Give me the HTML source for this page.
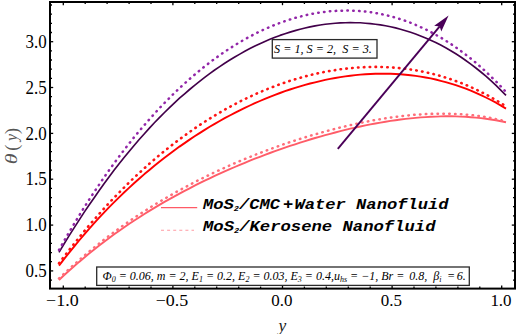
<!DOCTYPE html>
<html><head><meta charset="utf-8"><style>
html,body{margin:0;padding:0;background:#fff;}
body{width:517px;height:334px;overflow:hidden;position:relative;}
svg{position:absolute;left:0;top:0;}
.t{font-family:"Liberation Serif",serif;}
</style></head><body>
<svg width="517" height="334" viewBox="0 0 517 334">
<g fill="none" stroke-linejoin="round">
<path d="M59.0,280.0 L64.0,275.3 L69.0,270.7 L74.1,266.3 L79.1,261.9 L84.1,257.7 L89.1,253.6 L94.2,249.5 L99.2,245.6 L104.2,241.7 L109.2,238.0 L114.2,234.3 L119.3,230.7 L124.3,227.2 L129.3,223.8 L134.3,220.5 L139.4,217.2 L144.4,214.0 L149.4,210.9 L154.4,207.9 L159.4,204.9 L164.5,201.9 L169.5,199.1 L174.5,196.3 L179.5,193.6 L184.6,190.9 L189.6,188.3 L194.6,185.7 L199.6,183.2 L204.7,180.7 L209.7,178.3 L214.7,175.9 L219.7,173.6 L224.7,171.4 L229.8,169.2 L234.8,167.0 L239.8,164.9 L244.8,162.8 L249.9,160.7 L254.9,158.7 L259.9,156.8 L264.9,154.9 L269.9,153.0 L275.0,151.2 L280.0,149.4 L285.0,147.6 L290.0,145.9 L295.1,144.3 L300.1,142.7 L305.1,141.1 L310.1,139.5 L315.1,138.0 L320.2,136.6 L325.2,135.2 L330.2,133.8 L335.2,132.5 L340.3,131.2 L345.3,129.9 L350.3,128.7 L355.3,127.6 L360.3,126.5 L365.4,125.4 L370.4,124.4 L375.4,123.5 L380.4,122.6 L385.5,121.7 L390.5,120.9 L395.5,120.2 L400.5,119.5 L405.6,118.9 L410.6,118.4 L415.6,117.9 L420.6,117.4 L425.6,117.1 L430.7,116.8 L435.7,116.6 L440.7,116.4 L445.7,116.3 L450.8,116.3 L455.8,116.4 L460.8,116.6 L465.8,116.8 L470.8,117.2 L475.9,117.6 L480.9,118.1 L485.9,118.7 L490.9,119.5 L496.0,120.3 L501.0,121.2 L506.0,122.2" stroke="#ff5c68" stroke-width="1.9"/>
<path d="M59.0,278.4 L64.0,273.7 L69.0,269.1 L74.1,264.6 L79.1,260.2 L84.1,255.8 L89.1,251.6 L94.2,247.5 L99.2,243.5 L104.2,239.5 L109.2,235.7 L114.2,232.0 L119.3,228.3 L124.3,224.7 L129.3,221.2 L134.3,217.8 L139.4,214.4 L144.4,211.2 L149.4,208.0 L154.4,204.8 L159.4,201.8 L164.5,198.8 L169.5,195.9 L174.5,193.0 L179.5,190.2 L184.6,187.5 L189.6,184.8 L194.6,182.2 L199.6,179.6 L204.7,177.1 L209.7,174.7 L214.7,172.3 L219.7,170.0 L224.7,167.7 L229.8,165.4 L234.8,163.2 L239.8,161.1 L244.8,159.0 L249.9,157.0 L254.9,154.9 L259.9,153.0 L264.9,151.1 L269.9,149.2 L275.0,147.4 L280.0,145.6 L285.0,143.8 L290.0,142.1 L295.1,140.5 L300.1,138.9 L305.1,137.3 L310.1,135.8 L315.1,134.3 L320.2,132.9 L325.2,131.5 L330.2,130.1 L335.2,128.8 L340.3,127.5 L345.3,126.3 L350.3,125.1 L355.3,124.0 L360.3,122.9 L365.4,121.9 L370.4,120.9 L375.4,120.0 L380.4,119.2 L385.5,118.3 L390.5,117.6 L395.5,116.9 L400.5,116.3 L405.6,115.7 L410.6,115.2 L415.6,114.7 L420.6,114.4 L425.6,114.1 L430.7,113.9 L435.7,113.7 L440.7,113.6 L445.7,113.7 L450.8,113.8 L455.8,114.0 L460.8,114.2 L465.8,114.6 L470.8,115.1 L475.9,115.7 L480.9,116.3 L485.9,117.1 L490.9,118.0 L496.0,119.1 L501.0,120.2 L506.0,121.5" stroke="#ff6e7a" stroke-width="2.5" stroke-linecap="round" stroke-dasharray="0.5 5.35"/>
<path d="M59.0,265.7 L64.0,259.2 L69.0,252.8 L74.1,246.6 L79.1,240.5 L84.1,234.6 L89.1,228.8 L94.2,223.2 L99.2,217.7 L104.2,212.4 L109.2,207.1 L114.2,202.1 L119.3,197.1 L124.3,192.3 L129.3,187.6 L134.3,183.0 L139.4,178.5 L144.4,174.1 L149.4,169.9 L154.4,165.7 L159.4,161.7 L164.5,157.8 L169.5,154.0 L174.5,150.2 L179.5,146.6 L184.6,143.1 L189.6,139.6 L194.6,136.3 L199.6,133.1 L204.7,129.9 L209.7,126.8 L214.7,123.9 L219.7,121.0 L224.7,118.2 L229.8,115.5 L234.8,112.9 L239.8,110.3 L244.8,107.9 L249.9,105.5 L254.9,103.2 L259.9,101.0 L264.9,98.9 L269.9,96.8 L275.0,94.9 L280.0,93.0 L285.0,91.2 L290.0,89.5 L295.1,87.9 L300.1,86.4 L305.1,84.9 L310.1,83.5 L315.1,82.3 L320.2,81.1 L325.2,79.9 L330.2,78.9 L335.2,78.0 L340.3,77.1 L345.3,76.4 L350.3,75.7 L355.3,75.1 L360.3,74.6 L365.4,74.3 L370.4,74.0 L375.4,73.8 L380.4,73.7 L385.5,73.7 L390.5,73.8 L395.5,74.0 L400.5,74.3 L405.6,74.7 L410.6,75.2 L415.6,75.9 L420.6,76.6 L425.6,77.5 L430.7,78.4 L435.7,79.5 L440.7,80.8 L445.7,82.1 L450.8,83.6 L455.8,85.1 L460.8,86.9 L465.8,88.7 L470.8,90.7 L475.9,92.8 L480.9,95.1 L485.9,97.5 L490.9,100.0 L496.0,102.7 L501.0,105.6 L506.0,108.6" stroke="#ff0000" stroke-width="1.9"/>
<path d="M59.0,263.3 L64.0,256.7 L69.0,250.2 L74.1,243.8 L79.1,237.5 L84.1,231.4 L89.1,225.4 L94.2,219.6 L99.2,213.9 L104.2,208.3 L109.2,202.9 L114.2,197.6 L119.3,192.4 L124.3,187.3 L129.3,182.3 L134.3,177.5 L139.4,172.8 L144.4,168.2 L149.4,163.7 L154.4,159.4 L159.4,155.1 L164.5,151.0 L169.5,147.0 L174.5,143.1 L179.5,139.3 L184.6,135.6 L189.6,132.0 L194.6,128.5 L199.6,125.1 L204.7,121.8 L209.7,118.6 L214.7,115.5 L219.7,112.6 L224.7,109.7 L229.8,106.9 L234.8,104.2 L239.8,101.6 L244.8,99.1 L249.9,96.7 L254.9,94.4 L259.9,92.2 L264.9,90.1 L269.9,88.0 L275.0,86.1 L280.0,84.2 L285.0,82.5 L290.0,80.8 L295.1,79.3 L300.1,77.8 L305.1,76.4 L310.1,75.1 L315.1,73.9 L320.2,72.8 L325.2,71.8 L330.2,70.9 L335.2,70.1 L340.3,69.3 L345.3,68.7 L350.3,68.2 L355.3,67.7 L360.3,67.4 L365.4,67.1 L370.4,67.0 L375.4,66.9 L380.4,67.0 L385.5,67.1 L390.5,67.4 L395.5,67.7 L400.5,68.2 L405.6,68.8 L410.6,69.5 L415.6,70.3 L420.6,71.2 L425.6,72.2 L430.7,73.4 L435.7,74.6 L440.7,76.0 L445.7,77.6 L450.8,79.2 L455.8,81.0 L460.8,82.9 L465.8,84.9 L470.8,87.1 L475.9,89.4 L480.9,91.9 L485.9,94.5 L490.9,97.2 L496.0,100.1 L501.0,103.2 L506.0,106.4" stroke="#ff1414" stroke-width="2.6" stroke-linecap="round" stroke-dasharray="0.5 5.35"/>
<path d="M59.0,252.4 L64.0,244.0 L69.0,235.9 L74.1,227.9 L79.1,220.1 L84.1,212.4 L89.1,205.0 L94.2,197.7 L99.2,190.5 L104.2,183.6 L109.2,176.7 L114.2,170.1 L119.3,163.6 L124.3,157.3 L129.3,151.2 L134.3,145.2 L139.4,139.3 L144.4,133.7 L149.4,128.1 L154.4,122.8 L159.4,117.6 L164.5,112.5 L169.5,107.6 L174.5,102.8 L179.5,98.2 L184.6,93.8 L189.6,89.5 L194.6,85.3 L199.6,81.3 L204.7,77.4 L209.7,73.6 L214.7,70.0 L219.7,66.6 L224.7,63.2 L229.8,60.0 L234.8,57.0 L239.8,54.1 L244.8,51.3 L249.9,48.6 L254.9,46.1 L259.9,43.7 L264.9,41.4 L269.9,39.3 L275.0,37.3 L280.0,35.4 L285.0,33.7 L290.0,32.1 L295.1,30.6 L300.1,29.2 L305.1,28.0 L310.1,26.9 L315.1,25.9 L320.2,25.0 L325.2,24.3 L330.2,23.7 L335.2,23.2 L340.3,22.9 L345.3,22.7 L350.3,22.6 L355.3,22.7 L360.3,22.8 L365.4,23.2 L370.4,23.6 L375.4,24.2 L380.4,24.9 L385.5,25.8 L390.5,26.8 L395.5,27.9 L400.5,29.2 L405.6,30.7 L410.6,32.3 L415.6,34.0 L420.6,35.9 L425.6,37.9 L430.7,40.2 L435.7,42.5 L440.7,45.1 L445.7,47.8 L450.8,50.7 L455.8,53.8 L460.8,57.0 L465.8,60.5 L470.8,64.1 L475.9,68.0 L480.9,72.0 L485.9,76.2 L490.9,80.7 L496.0,85.4 L501.0,90.3 L506.0,95.4" stroke="#42004a" stroke-width="1.65"/>
<path d="M59.0,249.9 L64.0,241.1 L69.0,232.4 L74.1,223.9 L79.1,215.6 L84.1,207.5 L89.1,199.7 L94.2,192.0 L99.2,184.5 L104.2,177.1 L109.2,170.0 L114.2,163.1 L119.3,156.3 L124.3,149.7 L129.3,143.3 L134.3,137.0 L139.4,130.9 L144.4,125.0 L149.4,119.3 L154.4,113.7 L159.4,108.3 L164.5,103.0 L169.5,97.9 L174.5,92.9 L179.5,88.1 L184.6,83.5 L189.6,79.0 L194.6,74.7 L199.6,70.5 L204.7,66.4 L209.7,62.5 L214.7,58.8 L219.7,55.2 L224.7,51.7 L229.8,48.4 L234.8,45.2 L239.8,42.2 L244.8,39.3 L249.9,36.5 L254.9,33.9 L259.9,31.4 L264.9,29.1 L269.9,26.9 L275.0,24.8 L280.0,22.9 L285.0,21.1 L290.0,19.5 L295.1,17.9 L300.1,16.6 L305.1,15.3 L310.1,14.3 L315.1,13.3 L320.2,12.5 L325.2,11.8 L330.2,11.3 L335.2,10.9 L340.3,10.7 L345.3,10.5 L350.3,10.6 L355.3,10.8 L360.3,11.1 L365.4,11.6 L370.4,12.2 L375.4,13.0 L380.4,13.9 L385.5,15.0 L390.5,16.3 L395.5,17.7 L400.5,19.2 L405.6,20.9 L410.6,22.8 L415.6,24.9 L420.6,27.1 L425.6,29.4 L430.7,32.0 L435.7,34.7 L440.7,37.6 L445.7,40.6 L450.8,43.9 L455.8,47.3 L460.8,50.9 L465.8,54.7 L470.8,58.6 L475.9,62.8 L480.9,67.2 L485.9,71.7 L490.9,76.5 L496.0,81.4 L501.0,86.6 L506.0,92.0" stroke="#9226a8" stroke-width="2.5" stroke-linecap="round" stroke-dasharray="0.5 5.35"/>
</g>
<line x1="337.8" y1="148.9" x2="439.7" y2="26.4" stroke="#4a0058" stroke-width="1.9"/><polygon points="448.6,15.6 441.3,31.6 439.7,26.4 434.2,25.7" fill="#4a0058"/>
<g stroke="#000" stroke-width="1.3">
<line x1="63.3" y1="288.6" x2="63.3" y2="285.40000000000003"/><line x1="63.3" y1="2.0" x2="63.3" y2="5.2"/><line x1="85.2" y1="288.6" x2="85.2" y2="286.6"/><line x1="85.2" y1="2.0" x2="85.2" y2="4.0"/><line x1="107.1" y1="288.6" x2="107.1" y2="286.6"/><line x1="107.1" y1="2.0" x2="107.1" y2="4.0"/><line x1="129.1" y1="288.6" x2="129.1" y2="286.6"/><line x1="129.1" y1="2.0" x2="129.1" y2="4.0"/><line x1="151.0" y1="288.6" x2="151.0" y2="286.6"/><line x1="151.0" y1="2.0" x2="151.0" y2="4.0"/><line x1="172.9" y1="288.6" x2="172.9" y2="285.40000000000003"/><line x1="172.9" y1="2.0" x2="172.9" y2="5.2"/><line x1="194.8" y1="288.6" x2="194.8" y2="286.6"/><line x1="194.8" y1="2.0" x2="194.8" y2="4.0"/><line x1="216.7" y1="288.6" x2="216.7" y2="286.6"/><line x1="216.7" y1="2.0" x2="216.7" y2="4.0"/><line x1="238.7" y1="288.6" x2="238.7" y2="286.6"/><line x1="238.7" y1="2.0" x2="238.7" y2="4.0"/><line x1="260.6" y1="288.6" x2="260.6" y2="286.6"/><line x1="260.6" y1="2.0" x2="260.6" y2="4.0"/><line x1="282.5" y1="288.6" x2="282.5" y2="285.40000000000003"/><line x1="282.5" y1="2.0" x2="282.5" y2="5.2"/><line x1="304.4" y1="288.6" x2="304.4" y2="286.6"/><line x1="304.4" y1="2.0" x2="304.4" y2="4.0"/><line x1="326.3" y1="288.6" x2="326.3" y2="286.6"/><line x1="326.3" y1="2.0" x2="326.3" y2="4.0"/><line x1="348.3" y1="288.6" x2="348.3" y2="286.6"/><line x1="348.3" y1="2.0" x2="348.3" y2="4.0"/><line x1="370.2" y1="288.6" x2="370.2" y2="286.6"/><line x1="370.2" y1="2.0" x2="370.2" y2="4.0"/><line x1="392.1" y1="288.6" x2="392.1" y2="285.40000000000003"/><line x1="392.1" y1="2.0" x2="392.1" y2="5.2"/><line x1="414.0" y1="288.6" x2="414.0" y2="286.6"/><line x1="414.0" y1="2.0" x2="414.0" y2="4.0"/><line x1="435.9" y1="288.6" x2="435.9" y2="286.6"/><line x1="435.9" y1="2.0" x2="435.9" y2="4.0"/><line x1="457.9" y1="288.6" x2="457.9" y2="286.6"/><line x1="457.9" y1="2.0" x2="457.9" y2="4.0"/><line x1="479.8" y1="288.6" x2="479.8" y2="286.6"/><line x1="479.8" y1="2.0" x2="479.8" y2="4.0"/><line x1="501.7" y1="288.6" x2="501.7" y2="285.40000000000003"/><line x1="501.7" y1="2.0" x2="501.7" y2="5.2"/><line x1="50" y1="280.1" x2="52.0" y2="280.1"/><line x1="515.0" y1="280.1" x2="513.0" y2="280.1"/><line x1="50" y1="270.9" x2="53.2" y2="270.9"/><line x1="515.0" y1="270.9" x2="511.8" y2="270.9"/><line x1="50" y1="261.7" x2="52.0" y2="261.7"/><line x1="515.0" y1="261.7" x2="513.0" y2="261.7"/><line x1="50" y1="252.6" x2="52.0" y2="252.6"/><line x1="515.0" y1="252.6" x2="513.0" y2="252.6"/><line x1="50" y1="243.4" x2="52.0" y2="243.4"/><line x1="515.0" y1="243.4" x2="513.0" y2="243.4"/><line x1="50" y1="234.2" x2="52.0" y2="234.2"/><line x1="515.0" y1="234.2" x2="513.0" y2="234.2"/><line x1="50" y1="225.1" x2="53.2" y2="225.1"/><line x1="515.0" y1="225.1" x2="511.8" y2="225.1"/><line x1="50" y1="215.9" x2="52.0" y2="215.9"/><line x1="515.0" y1="215.9" x2="513.0" y2="215.9"/><line x1="50" y1="206.7" x2="52.0" y2="206.7"/><line x1="515.0" y1="206.7" x2="513.0" y2="206.7"/><line x1="50" y1="197.6" x2="52.0" y2="197.6"/><line x1="515.0" y1="197.6" x2="513.0" y2="197.6"/><line x1="50" y1="188.4" x2="52.0" y2="188.4"/><line x1="515.0" y1="188.4" x2="513.0" y2="188.4"/><line x1="50" y1="179.2" x2="53.2" y2="179.2"/><line x1="515.0" y1="179.2" x2="511.8" y2="179.2"/><line x1="50" y1="170.1" x2="52.0" y2="170.1"/><line x1="515.0" y1="170.1" x2="513.0" y2="170.1"/><line x1="50" y1="160.9" x2="52.0" y2="160.9"/><line x1="515.0" y1="160.9" x2="513.0" y2="160.9"/><line x1="50" y1="151.7" x2="52.0" y2="151.7"/><line x1="515.0" y1="151.7" x2="513.0" y2="151.7"/><line x1="50" y1="142.5" x2="52.0" y2="142.5"/><line x1="515.0" y1="142.5" x2="513.0" y2="142.5"/><line x1="50" y1="133.4" x2="53.2" y2="133.4"/><line x1="515.0" y1="133.4" x2="511.8" y2="133.4"/><line x1="50" y1="124.2" x2="52.0" y2="124.2"/><line x1="515.0" y1="124.2" x2="513.0" y2="124.2"/><line x1="50" y1="115.0" x2="52.0" y2="115.0"/><line x1="515.0" y1="115.0" x2="513.0" y2="115.0"/><line x1="50" y1="105.9" x2="52.0" y2="105.9"/><line x1="515.0" y1="105.9" x2="513.0" y2="105.9"/><line x1="50" y1="96.7" x2="52.0" y2="96.7"/><line x1="515.0" y1="96.7" x2="513.0" y2="96.7"/><line x1="50" y1="87.5" x2="53.2" y2="87.5"/><line x1="515.0" y1="87.5" x2="511.8" y2="87.5"/><line x1="50" y1="78.4" x2="52.0" y2="78.4"/><line x1="515.0" y1="78.4" x2="513.0" y2="78.4"/><line x1="50" y1="69.2" x2="52.0" y2="69.2"/><line x1="515.0" y1="69.2" x2="513.0" y2="69.2"/><line x1="50" y1="60.0" x2="52.0" y2="60.0"/><line x1="515.0" y1="60.0" x2="513.0" y2="60.0"/><line x1="50" y1="50.9" x2="52.0" y2="50.9"/><line x1="515.0" y1="50.9" x2="513.0" y2="50.9"/><line x1="50" y1="41.7" x2="53.2" y2="41.7"/><line x1="515.0" y1="41.7" x2="511.8" y2="41.7"/><line x1="50" y1="32.5" x2="52.0" y2="32.5"/><line x1="515.0" y1="32.5" x2="513.0" y2="32.5"/><line x1="50" y1="23.4" x2="52.0" y2="23.4"/><line x1="515.0" y1="23.4" x2="513.0" y2="23.4"/><line x1="50" y1="14.2" x2="52.0" y2="14.2"/><line x1="515.0" y1="14.2" x2="513.0" y2="14.2"/><line x1="50" y1="5.0" x2="52.0" y2="5.0"/><line x1="515.0" y1="5.0" x2="513.0" y2="5.0"/>
</g>
<rect x="50" y="2.0" width="465.0" height="286.6" fill="none" stroke="#000" stroke-width="2"/>
<g class="t" font-size="17" fill="#000">
<text x="46.1" y="306.4" font-size="17.4" textLength="32.6" lengthAdjust="spacingAndGlyphs">−1.0</text><text x="155.7" y="306.4" font-size="17.4" textLength="32.6" lengthAdjust="spacingAndGlyphs">−0.5</text><text x="271.2" y="306.4" font-size="17.4" textLength="21.2" lengthAdjust="spacingAndGlyphs">0.0</text><text x="380.8" y="306.4" font-size="17.4" textLength="21.2" lengthAdjust="spacingAndGlyphs">0.5</text><text x="490.4" y="306.4" font-size="17.4" textLength="21.2" lengthAdjust="spacingAndGlyphs">1.0</text>
<text x="25.6" y="277.1" font-size="17.8" textLength="21.2" lengthAdjust="spacingAndGlyphs">0.5</text><text x="25.6" y="231.3" font-size="17.8" textLength="21.2" lengthAdjust="spacingAndGlyphs">1.0</text><text x="25.6" y="185.4" font-size="17.8" textLength="21.2" lengthAdjust="spacingAndGlyphs">1.5</text><text x="25.6" y="139.6" font-size="17.8" textLength="21.2" lengthAdjust="spacingAndGlyphs">2.0</text><text x="25.6" y="93.7" font-size="17.8" textLength="21.2" lengthAdjust="spacingAndGlyphs">2.5</text><text x="25.6" y="47.9" font-size="17.8" textLength="21.2" lengthAdjust="spacingAndGlyphs">3.0</text>
</g>
<text class="t" x="282.3" y="331" font-size="17.5" font-style="italic" fill="#1a1a1a" text-anchor="middle">y</text>
<g class="t" transform="translate(16.8,164) rotate(-90)" fill="#555"><text transform="scale(1.25,1)" x="-0.3" y="0" font-size="17.5" font-style="italic">&#952;</text><text x="13.2" y="1" font-size="18">(</text><text x="22.9" y="0" font-size="16" font-style="italic">y</text><text x="29.9" y="1" font-size="18">)</text></g>
<!-- S legend box -->
<rect x="272.3" y="39.6" width="104.7" height="18.5" fill="#fff" stroke="#2a2a2a" stroke-width="1.3"/>
<text class="t" x="274" y="53" font-size="12.2" font-style="italic" fill="#000" xml:space="preserve">S = 1, S = 2,  S = 3.</text>
<!-- nanofluid legend -->
<line x1="161" y1="207.6" x2="197.2" y2="207.6" stroke="#ff5a66" stroke-width="1.3"/>
<line x1="161" y1="230.3" x2="194" y2="230.3" stroke="#ff9aa2" stroke-width="1.1" stroke-dasharray="3 3.1"/>
<g font-family="Liberation Mono, monospace" font-weight="bold" font-style="italic" font-size="14" fill="#000">
<text x="203" y="209.3" textLength="245.5" lengthAdjust="spacingAndGlyphs">MoS<tspan font-size="7" dy="1.6">2</tspan><tspan dy="-1.6">/CMC</tspan><tspan dx="2.5">+</tspan><tspan dx="1">Water Nanofluid</tspan></text>
<text x="203" y="231.3" textLength="232.5" lengthAdjust="spacingAndGlyphs">MoS<tspan font-size="7" dy="1.6">2</tspan><tspan dy="-1.6">/Kerosene Nanofluid</tspan></text>
</g>
<!-- param box -->
<rect x="96.7" y="267" width="372.6" height="18.4" fill="#fff" stroke="#2a2a2a" stroke-width="1.3"/>
<text class="t" x="102.6" y="280" font-size="12" font-style="italic" fill="#000" xml:space="preserve">&#934;<tspan font-size="8" dy="2">0</tspan><tspan dy="-2"> = 0.06, m = 2, E</tspan><tspan font-size="8" dy="2">1</tspan><tspan dy="-2"> = 0.2, E</tspan><tspan font-size="8" dy="2">2</tspan><tspan dy="-2"> = 0.03, E</tspan><tspan font-size="8" dy="2">3</tspan><tspan dy="-2"> = 0.4,u</tspan><tspan font-size="8" dy="2">hs</tspan><tspan dy="-2"> = &#8722;1, Br = </tspan><tspan dx="2">0.8,  &#946;</tspan><tspan font-size="8" dy="2">i</tspan><tspan dy="-2" dx="2.5"> =</tspan><tspan dx="-1.5"> 6.</tspan></text>
</svg>
</body></html>
